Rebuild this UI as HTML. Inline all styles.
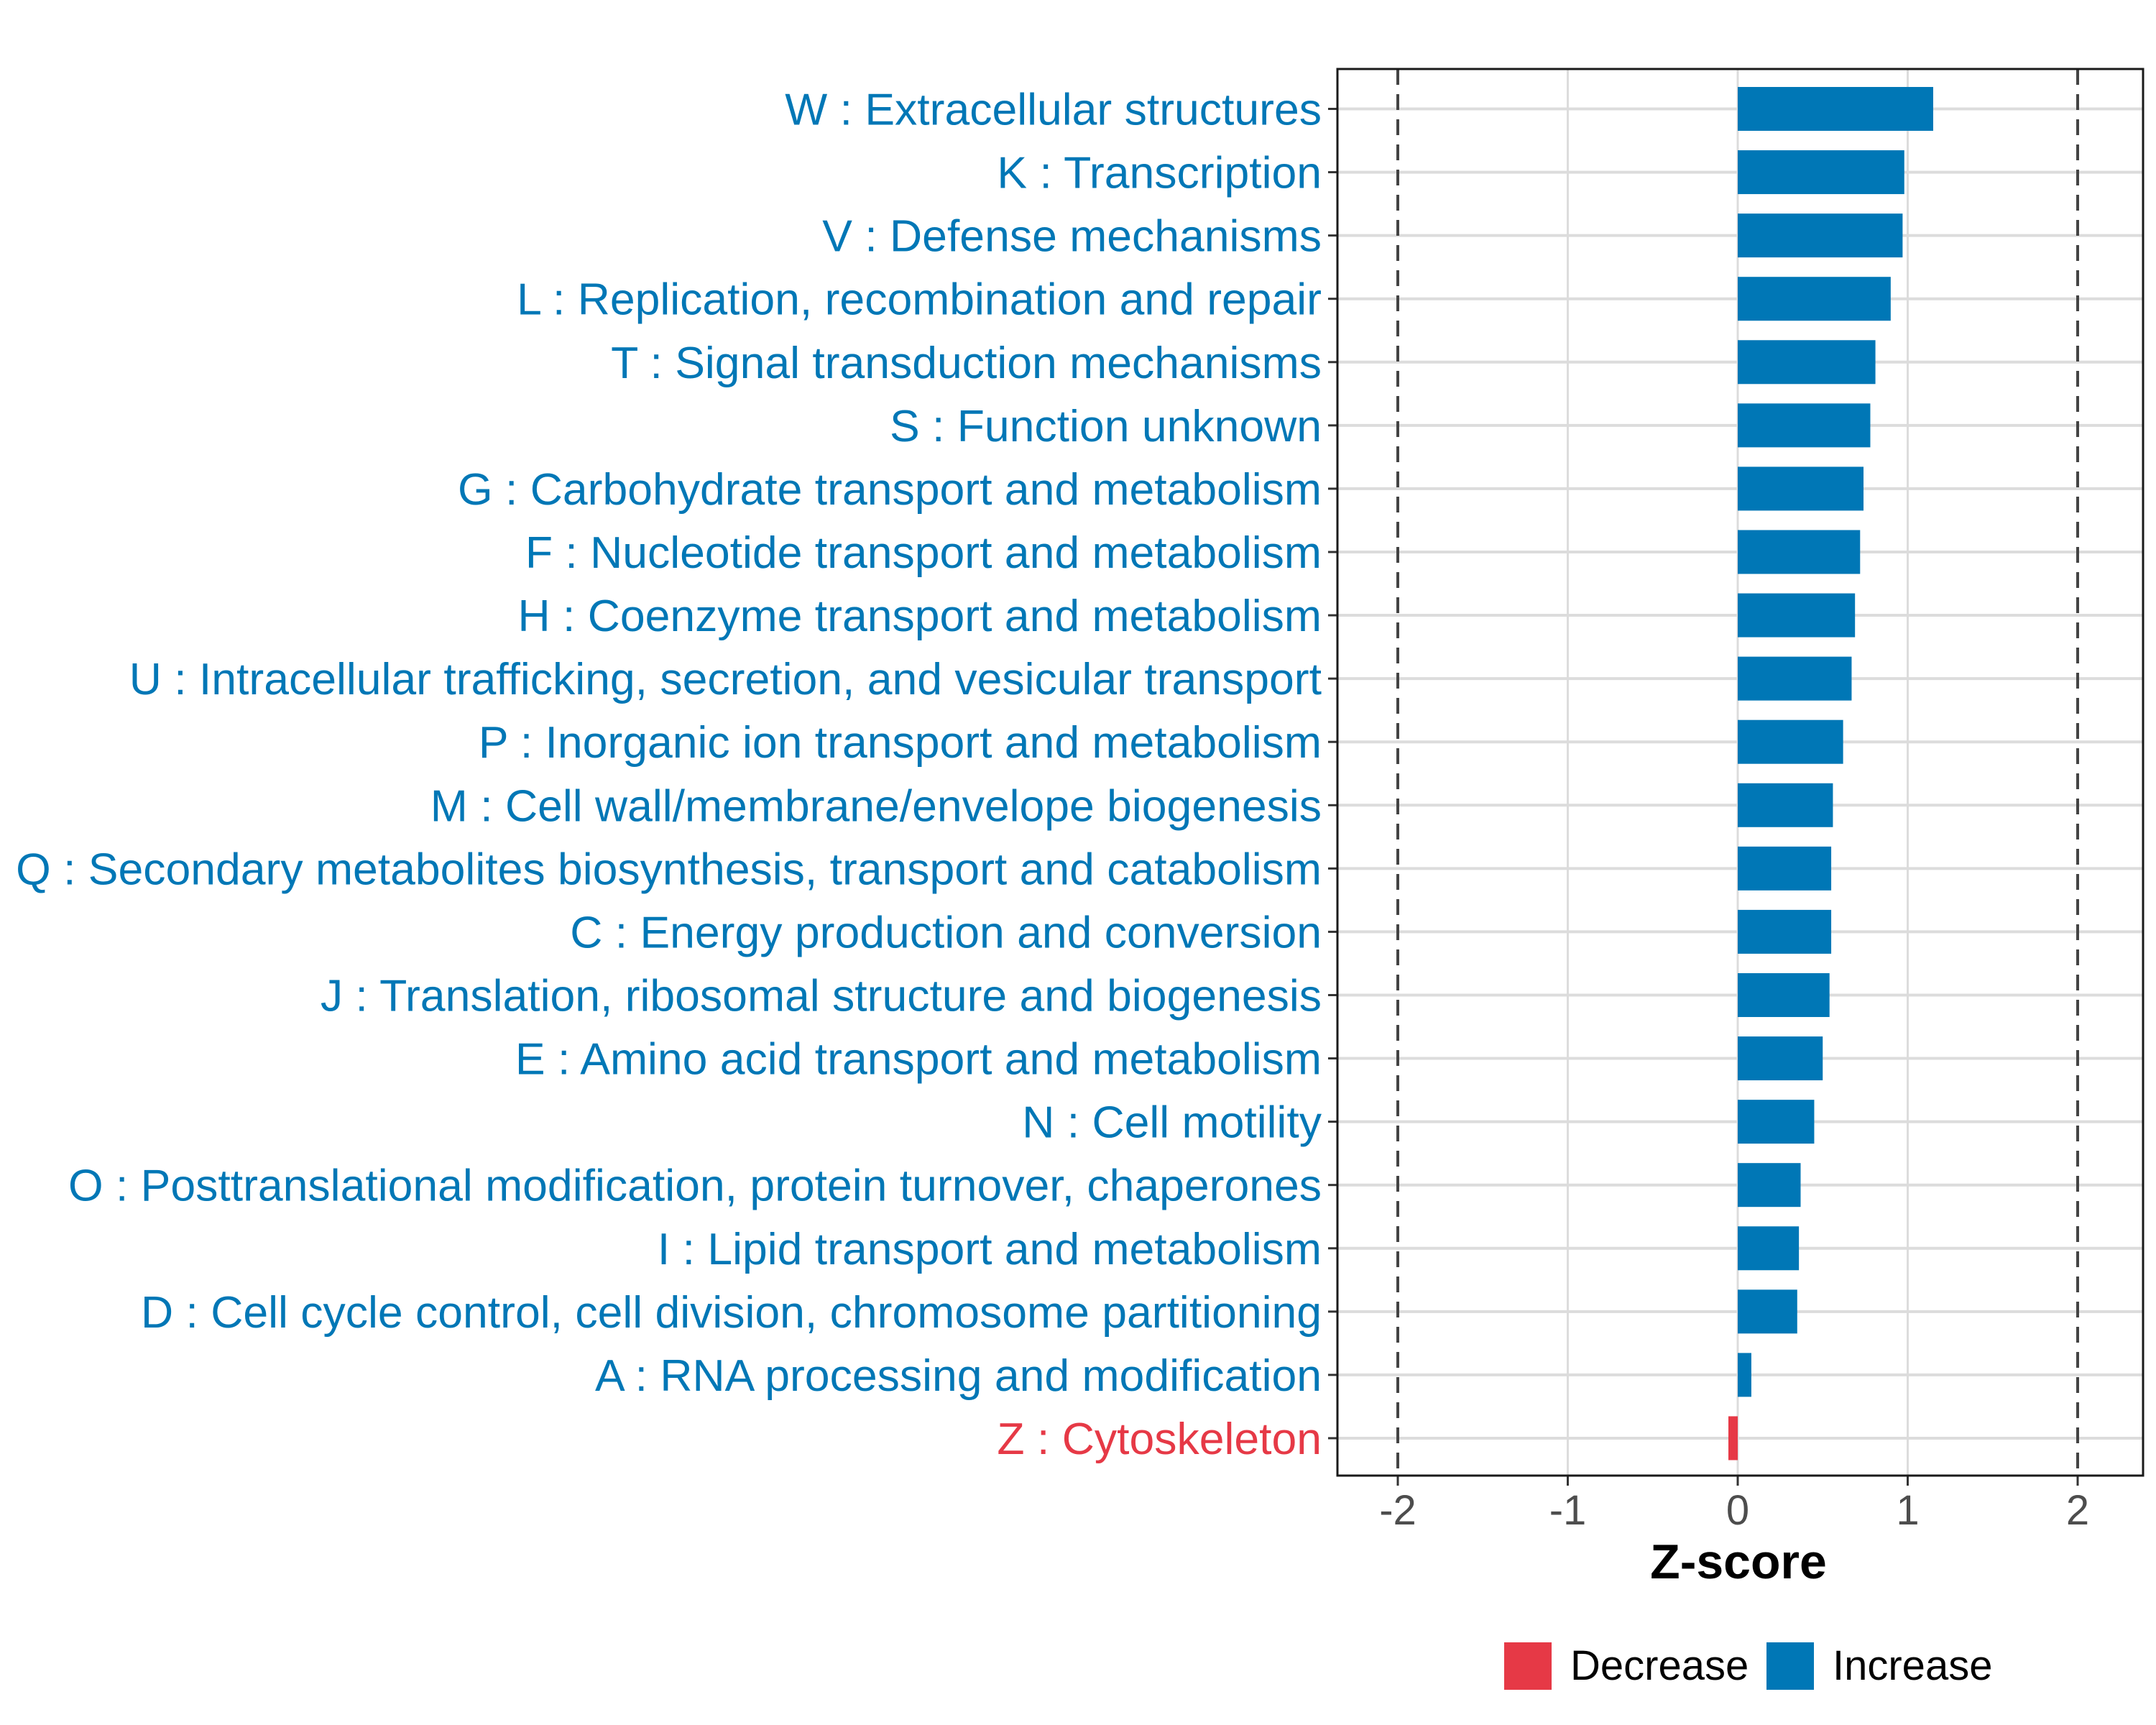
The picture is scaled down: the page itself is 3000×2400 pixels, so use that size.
<!DOCTYPE html>
<html><head><meta charset="utf-8"><style>
body{margin:0;background:#fff}
svg{display:block;font-family:"Liberation Sans",Arial,sans-serif}
</style></head><body>
<svg id="chart" width="3000" height="2400" viewBox="0 0 3000 2400" xmlns="http://www.w3.org/2000/svg">
<rect width="3000" height="2400" fill="#fff"/>
<g id="grid"></g>
<g id="bars"></g>
<g id="ylabels"></g>
<g id="xaxis"></g>
<rect x="1861" y="96" width="1121" height="1957" fill="none" stroke="#1a1a1a" stroke-width="3"/>
<text x="2419" y="2196" font-size="68" font-weight="bold" text-anchor="middle" fill="#000">Z-score</text>
<g>
<rect x="2093" y="2285" width="66" height="66" fill="#E63946"/>
<text x="2185" y="2337" font-size="58" fill="#000">Decrease</text>
<rect x="2458" y="2285" width="66" height="66" fill="#0077B6"/>
<text x="2550" y="2337" font-size="58" fill="#000">Increase</text>
</g>
</svg>
<script>
const categories = ["W : Extracellular structures","K : Transcription","V : Defense mechanisms","L : Replication, recombination and repair","T : Signal transduction mechanisms","S : Function unknown","G : Carbohydrate transport and metabolism","F : Nucleotide transport and metabolism","H : Coenzyme transport and metabolism","U : Intracellular trafficking, secretion, and vesicular transport","P : Inorganic ion transport and metabolism","M : Cell wall/membrane/envelope biogenesis","Q : Secondary metabolites biosynthesis, transport and catabolism","C : Energy production and conversion","J : Translation, ribosomal structure and biogenesis","E : Amino acid transport and metabolism","N : Cell motility","O : Posttranslational modification, protein turnover, chaperones","I : Lipid transport and metabolism","D : Cell cycle control, cell division, chromosome partitioning","A : RNA processing and modification","Z : Cytoskeleton"];
const zscores = [1.15,0.98,0.97,0.90,0.81,0.78,0.74,0.72,0.69,0.67,0.62,0.56,0.55,0.55,0.54,0.50,0.45,0.37,0.36,0.35,0.08,-0.055];
const xTicks = [-2,-1,0,1,2];
const xTickLabels = ["-2","-1","0","1","2"];
const thresholds = [-2,2];

const NS="http://www.w3.org/2000/svg";
const PL=1861, PR=2982, PT=96, PB=2053;
const x = v => 2418 + v*236.5;
const y = i => 151.5 + i*88.07;
function mk(tag, attrs, parent){const e=document.createElementNS(NS,tag);for(const k in attrs)e.setAttribute(k,attrs[k]);parent.appendChild(e);return e;}
const grid=document.getElementById('grid'), bars=document.getElementById('bars'), yl=document.getElementById('ylabels'), xa=document.getElementById('xaxis');
xTicks.forEach((t,i)=>{
  if(!thresholds.includes(t)){
    const g=mk('line',{x1:x(t),x2:x(t),y1:PT,y2:PB,stroke:'#dcdcdc','stroke-width':3},grid);
    
    
  }
  const tk=mk('line',{x1:x(t),x2:x(t),y1:PB,y2:PB+14,stroke:'#333','stroke-width':3},xa);
  
  
  const tl=mk('text',{x:x(t),y:2121,'font-size':58,'text-anchor':'middle',fill:'#4d4d4d'},xa);
  tl.textContent=xTickLabels[i];
  
  
});
categories.forEach((c,i)=>{
  const g=mk('line',{x1:PL,x2:PR,y1:y(i),y2:y(i),stroke:'#dcdcdc','stroke-width':4},grid);
  
  
});
thresholds.forEach(t=>{
  const d=mk('line',{x1:x(t),x2:x(t),y1:PT,y2:PB,stroke:'#444','stroke-width':4,'stroke-dasharray':'22,13'},grid);
  
  
});
categories.forEach((c,i)=>{
  const v=zscores[i];
  const col = v<0 ? '#E63946' : '#0077B6';
  const b=mk('rect',{x:Math.min(x(0),x(v)),y:y(i)-30.5,width:Math.abs(x(v)-x(0)),height:61,fill:col},bars);
  
  
  const tk=mk('line',{x1:PL-13,x2:PL,y1:y(i),y2:y(i),stroke:'#333','stroke-width':3},yl);
  
  
  const t=mk('text',{x:1839,y:y(i)+22,'font-size':62.5,'text-anchor':'end',fill:col},yl);
  t.textContent=c;
  
  
});
</script>
</body></html>
